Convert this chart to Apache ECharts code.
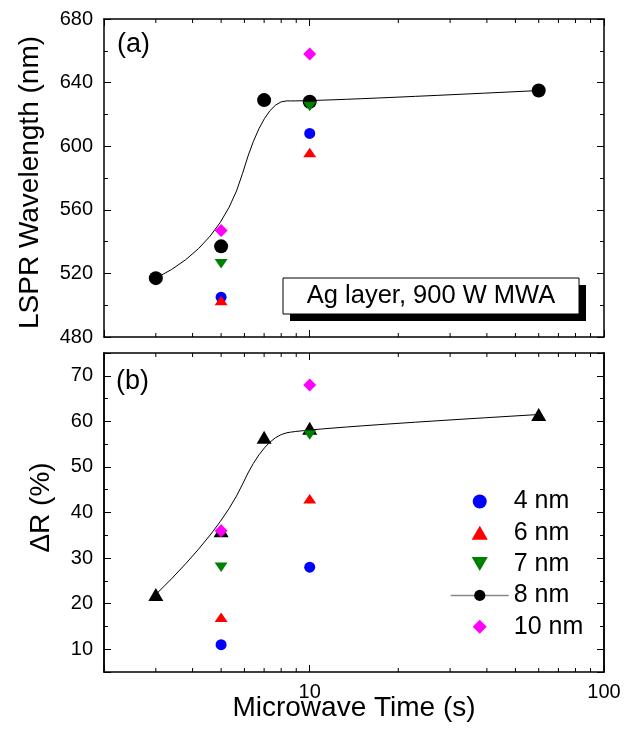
<!DOCTYPE html>
<html><head><meta charset="utf-8">
<script src="https://cdn.jsdelivr.net/npm/echarts@6/dist/echarts.min.js"></script>
<style>html,body{margin:0;padding:0;background:#fff}#c{width:633px;height:729px}</style>
</head><body><div id="c"></div>
<script>
// ---- data ----
const times8 = [3, 5, 7, 10, 60];
const timesOther = [5, 10];
const lspr8 = [517, 537, 629, 628, 635];
const lspr4 = [505, 608];
const lspr6 = [503, 596];
const lspr7 = [526, 625];
const lspr10 = [547, 658];
const dr8 = [22, 36, 56.5, 58.5, 61.5];
const dr4 = [11, 28];
const dr6 = [17, 43];
const dr7 = [28, 57];
const dr10 = [36, 68];
const legendNames = ['4 nm', '6 nm', '7 nm', '8 nm', '10 nm'];
const xLabelValues = [10, 100];
const xMinorTicks = [3, 4, 5, 6, 7, 8, 9, 20, 30, 40, 50, 60, 70, 80, 90];
const topYTicks = [480, 520, 560, 600, 640, 680];
const botYTicks = [10, 20, 30, 40, 50, 60, 70];

const FONT = "'Liberation Sans', Arial, sans-serif";
const zip = (xs, ys) => xs.map((x, i) => [x, ys[i]]);
const TRI_UP = 'path://M5,0 L10,8.66 L0,8.66 Z';
const TRI_DOWN = 'path://M0,0 L10,0 L5,8.66 Z';
const DIAMOND = 'path://M5,0 L10,5 L5,10 L0,5 Z';

function xAx(gridIndex, position, showLabel, name) {
  return {
    type: 'log', logBase: 10, gridIndex, position, min: 2, max: 100,
    axisLine: { show: true, onZero: false, lineStyle: { color: '#000', width: 1.5 } },
    axisTick: { show: true, inside: true, length: 7, lineStyle: { color: '#000', width: 1 } },
    axisLabel: {
      show: showLabel, margin: 10, fontSize: 20, color: '#000', fontFamily: FONT,
      formatter: v => xLabelValues.some(m => Math.abs(m - v) < 1e-6 * m) ? String(Math.round(v)) : ''
    },
    splitLine: { show: false },
    name: name || '', nameLocation: 'middle', nameGap: 22, nameMoveOverlap: false,
    nameTextStyle: { fontSize: 28, color: '#000', fontFamily: FONT }
  };
}
function yAx(gridIndex, position, min, max, extra) {
  return Object.assign({
    type: 'value', gridIndex, position, min, max,
    axisLine: { show: true, onZero: false, lineStyle: { color: '#000', width: 1.5 } },
    axisTick: { show: true, inside: true, length: 7, lineStyle: { color: '#000', width: 1 } },
    axisLabel: { show: false },
    splitLine: { show: false },
    nameLocation: 'middle'
  }, extra);
}
const labelStyle = (ticks) => ({
  show: true, margin: 11, fontSize: 20, color: '#000', fontFamily: FONT,
  formatter: v => ticks.indexOf(Math.round(v * 1000) / 1000) >= 0 ? String(v) : ''
});

// minor ticks of the log axes (bottom and top of a grid)
function tickSeries(xi, yi, ymin, ymax) {
  return {
    type: 'custom', xAxisIndex: xi, yAxisIndex: yi, silent: true, z: 5,
    data: xMinorTicks.map(v => [v, ymin]),
    renderItem: (params, api) => {
      const b = api.coord([api.value(0), ymin]);
      const t = api.coord([api.value(0), ymax]);
      return { type: 'group', children: [
        { type: 'line', shape: { x1: b[0], y1: b[1], x2: b[0], y2: b[1] - 4 }, style: { stroke: '#000', lineWidth: 1 } },
        { type: 'line', shape: { x1: t[0], y1: t[1], x2: t[0], y2: t[1] + 4 }, style: { stroke: '#000', lineWidth: 1 } }
      ] };
    }
  };
}

// quadratic B-spline using the data points as control points (Origin "B-Spline" connect)
function splineSeries(xi, yi, xs, ys) {
  return {
    type: 'custom', xAxisIndex: xi, yAxisIndex: yi, silent: true, z: 1,
    data: zip(xs, ys),
    renderItem: (params, api) => {
      if (params.dataIndex !== 0) return null;
      const p = xs.map((x, i) => api.coord([x, ys[i]]));
      const n = p.length - 1;
      let d = 'M' + p[0][0] + ',' + p[0][1];
      for (let i = 1; i <= n - 1; i++) {
        const end = (i === n - 1) ? p[n] : [(p[i][0] + p[i + 1][0]) / 2, (p[i][1] + p[i + 1][1]) / 2];
        d += ' Q' + p[i][0] + ',' + p[i][1] + ' ' + end[0] + ',' + end[1];
      }
      return { type: 'path', shape: { pathData: d }, style: { fill: null, stroke: '#000', lineWidth: 1 } };
    }
  };
}

function scatter(name, xi, yi, xs, ys, symbol, size, color) {
  return { type: 'scatter', name, xAxisIndex: xi, yAxisIndex: yi, data: zip(xs, ys),
    symbol, symbolSize: size, symbolKeepAspect: true, itemStyle: { color, opacity: 1 }, z: 3 };
}

const chart = echarts.init(document.getElementById('c'), null, { renderer: 'canvas' });
chart.setOption({
  animation: false,
  backgroundColor: '#fff',
  textStyle: { fontFamily: FONT },
  grid: [
    { left: 104, right: 29, top: 19, height: 318 },
    { left: 104, right: 29, top: 353, height: 319 }
  ],
  xAxis: [
    xAx(0, 'bottom', false),
    xAx(0, 'top', false),
    xAx(1, 'bottom', true, 'Microwave Time (s)'),
    xAx(1, 'top', false)
  ],
  yAxis: [
    yAx(0, 'left', 480, 680, { interval: 40, name: 'LSPR Wavelength (nm)', nameGap: 60,
      nameTextStyle: { fontSize: 28, color: '#000', fontFamily: FONT, padding: [0, 9, 0, 0] },
      axisLabel: labelStyle(topYTicks),
      minorTick: { show: true, splitNumber: 2, length: 4, lineStyle: { color: '#000', width: 1 } } }),
    yAx(0, 'right', 480, 680, { interval: 40,
      minorTick: { show: true, splitNumber: 2, length: 4, lineStyle: { color: '#000', width: 1 } } }),
    yAx(1, 'left', 5, 75, { splitNumber: 7, name: 'ΔR (%)', nameGap: 49,
      nameTextStyle: { fontSize: 28, color: '#000', fontFamily: FONT, padding: [0, 0, 0, 10] },
      axisLabel: labelStyle(botYTicks) }),
    yAx(1, 'right', 5, 75, { splitNumber: 7 }),
    yAx(1, 'left', 5, 75, { interval: 5, axisTick: { show: true, inside: true, length: 4, lineStyle: { color: '#000', width: 1 } } }),
    yAx(1, 'right', 5, 75, { interval: 5, axisTick: { show: true, inside: true, length: 4, lineStyle: { color: '#000', width: 1 } } })
  ],
  legend: {
    data: legendNames, orient: 'vertical', left: 445, top: 484,
    itemWidth: 58, itemHeight: 14, itemGap: 6.3, symbolKeepAspect: true,
    textStyle: { fontSize: 25, color: '#000', fontFamily: FONT },
    lineStyle: { color: '#888', width: 1.5, opacity: 1 },
    selectedMode: false
  },
  series: [
    tickSeries(0, 0, 480, 680),
    tickSeries(2, 2, 5, 75),
    splineSeries(0, 0, times8, lspr8),
    splineSeries(2, 2, times8, dr8),
    { type: 'line', name: '8 nm', xAxisIndex: 0, yAxisIndex: 0, data: zip(times8, lspr8),
      symbol: 'circle', symbolSize: 14, itemStyle: { color: '#000' },
      lineStyle: { color: '#000', width: 1, opacity: 0 }, z: 2 },
    scatter('4 nm', 0, 0, timesOther, lspr4, 'circle', 11, '#0000ff'),
    scatter('6 nm', 0, 0, timesOther, lspr6, TRI_UP, [13, 11], '#ff0000'),
    scatter('7 nm', 0, 0, timesOther, lspr7, TRI_DOWN, [13, 11], '#008000'),
    scatter('10 nm', 0, 0, timesOther, lspr10, DIAMOND, 13, '#ff00ff'),
    { type: 'line', name: '8 nm', xAxisIndex: 2, yAxisIndex: 2, data: zip(times8, dr8),
      symbol: 'triangle', symbolSize: [15, 13], itemStyle: { color: '#000' },
      lineStyle: { color: '#000', width: 1, opacity: 0 }, z: 2 },
    scatter('4 nm', 2, 2, timesOther, dr4, 'circle', 11, '#0000ff'),
    scatter('6 nm', 2, 2, timesOther, dr6, TRI_UP, [13, 11], '#ff0000'),
    scatter('7 nm', 2, 2, timesOther, dr7, TRI_DOWN, [13, 11], '#008000'),
    scatter('10 nm', 2, 2, timesOther, dr10, DIAMOND, 13, '#ff00ff')
  ],
  graphic: [
    { type: 'text', left: 117, top: 31, style: { text: '(a)', fontSize: 27, fill: '#000', fontFamily: FONT } },
    { type: 'text', left: 116, top: 368, style: { text: '(b)', fontSize: 27, fill: '#000', fontFamily: FONT } },
    { type: 'rect', shape: { x: 290, y: 285, width: 296, height: 36 }, style: { fill: '#000' }, z: 10 },
    { type: 'rect', shape: { x: 283, y: 278, width: 296, height: 36 }, style: { fill: '#fff', stroke: '#000', lineWidth: 1 }, z: 11 },
    { type: 'text', x: 431, y: 296, z: 12, style: { text: 'Ag layer, 900 W MWA', fontSize: 25.5, fill: '#000', fontFamily: FONT, align: 'center', verticalAlign: 'middle' } }
  ]
});
</script></body></html>
